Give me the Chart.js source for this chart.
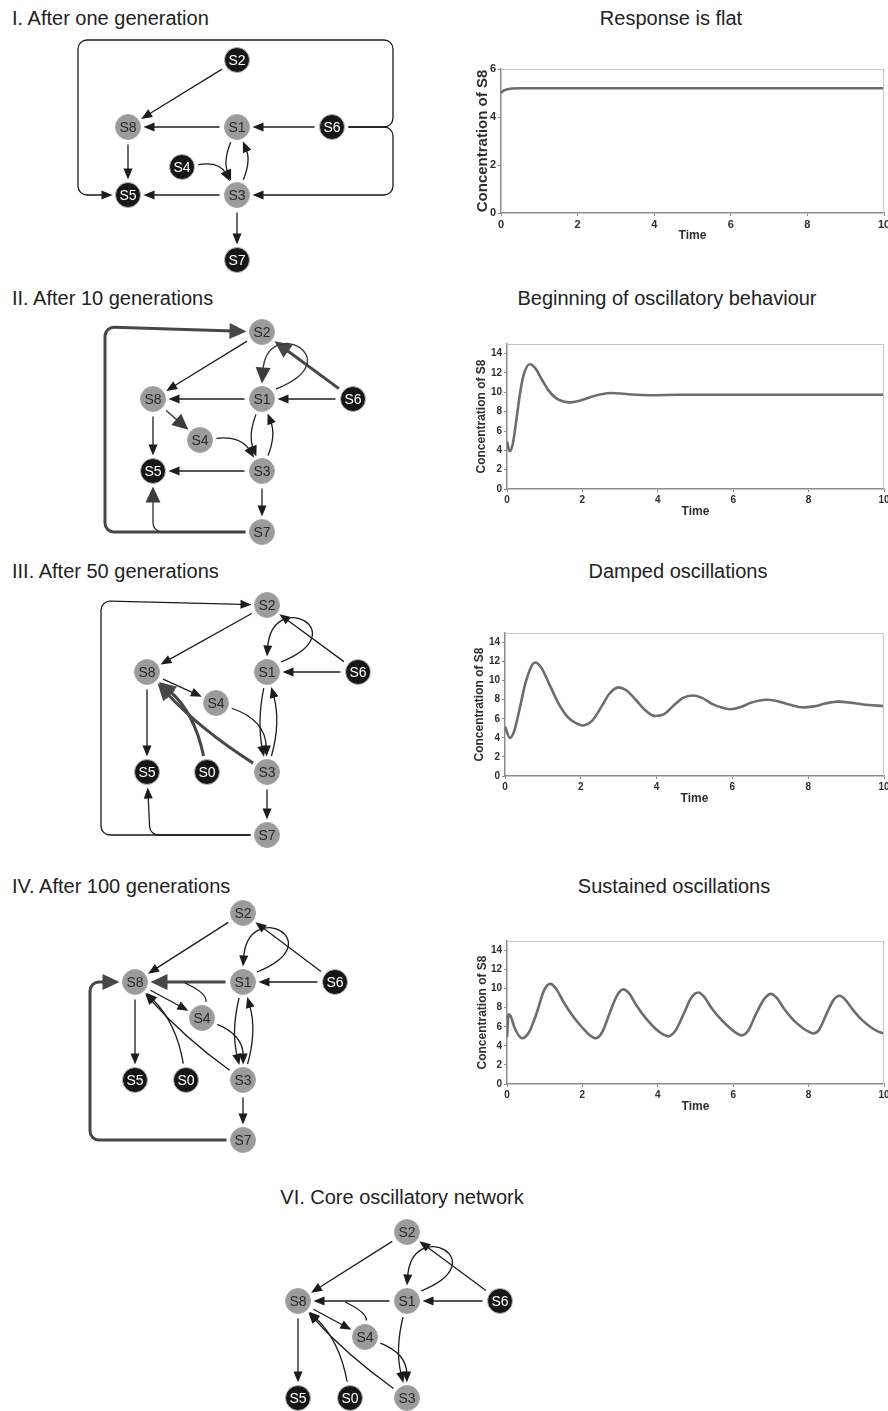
<!DOCTYPE html>
<html>
<head>
<meta charset="utf-8">
<title>Evolution of an oscillatory network</title>
<script src="https://cdn.jsdelivr.net/npm/chart.js@4.4.1/dist/chart.umd.min.js"></script>
<style>
    html, body { margin: 0; padding: 0; background: #fff; overflow: hidden; }
    body { position: relative; width: 888px; height: 1411px; font-family: "Liberation Sans", Arial, sans-serif; }
    .t { position: absolute; font-size: 20px; line-height: 20px; color: #222; white-space: nowrap; }
    .mid { transform: translateX(-50%); }
    canvas { position: absolute; }
</style>
</head>
<body>

<div class="t" style="left:12px;top:8px">I. After one generation</div>
<div class="t mid" style="left:671px;top:8px">Response is flat</div>
<div class="t" style="left:12px;top:288px">II. After 10 generations</div>
<div class="t mid" style="left:667px;top:288px">Beginning of oscillatory behaviour</div>
<div class="t" style="left:12px;top:561px">III. After 50 generations</div>
<div class="t mid" style="left:678px;top:561px">Damped oscillations</div>
<div class="t" style="left:12px;top:876px">IV. After 100 generations</div>
<div class="t mid" style="left:674px;top:876px">Sustained oscillations</div>
<div class="t mid" style="left:402px;top:1187px">VI. Core oscillatory network</div>

<canvas id="net1" width="360" height="262" style="left:55px;top:28px"></canvas>
<canvas id="net2" width="300" height="240" style="left:85px;top:310px"></canvas>
<canvas id="net3" width="300" height="270" style="left:85px;top:585px"></canvas>
<canvas id="net4" width="300" height="270" style="left:70px;top:893px"></canvas>
<canvas id="net6" width="260" height="199" style="left:270px;top:1212px"></canvas>

<canvas id="resp1" width="444" height="188" style="left:462px;top:59px"></canvas>
<canvas id="resp2" width="444" height="189" style="left:462px;top:334px"></canvas>
<canvas id="resp3" width="444" height="187" style="left:462px;top:623px"></canvas>
<canvas id="resp4" width="444" height="187" style="left:462px;top:931px"></canvas>

<script>
var FONT = '"Liberation Sans", Arial, sans-serif';

// concentration of S8 over time
var time1 = [0, 0.05, 0.1, 0.2, 0.3, 0.5, 1, 10];
var conc1 = [5.0, 5.08, 5.12, 5.17, 5.19, 5.2, 5.2, 5.2];

var time2 = [0, 0.07, 0.15, 0.25, 0.35, 0.45, 0.6, 0.75, 0.9, 1.1, 1.3, 1.5, 1.68, 1.9, 2.2, 2.5, 2.78, 3.1, 3.4, 3.8, 4.5, 10];
var conc2 = [4.9, 3.9, 4.6, 7.2, 10.0, 11.9, 12.9, 12.5, 11.5, 10.2, 9.4, 9.05, 8.96, 9.1, 9.5, 9.8, 9.93, 9.85, 9.75, 9.7, 9.75, 9.75];

var time3 = [0, 0.13, 0.25, 0.4, 0.55, 0.79, 0.95, 1.15, 1.4, 1.65, 1.85, 2.06, 2.3, 2.55, 2.75, 2.99, 3.2, 3.45, 3.7, 3.95,
             4.2, 4.45, 4.7, 4.95, 5.2, 5.45, 5.7, 5.93, 6.2, 6.5, 6.9, 7.2, 7.5, 7.86, 8.15, 8.45, 8.79, 9.1, 9.45, 10];
var conc3 = [5.2, 4.0, 4.8, 7.3, 9.9, 11.9, 11.4, 9.8, 7.7, 6.2, 5.6, 5.3, 5.8, 7.3, 8.6, 9.3, 9.0, 8.0, 6.9, 6.3,
             6.5, 7.4, 8.2, 8.45, 8.2, 7.6, 7.2, 7.0, 7.2, 7.7, 8.0, 7.85, 7.5, 7.2, 7.3, 7.6, 7.8, 7.7, 7.5, 7.33];

var time4 = [0, 0.04, 0.1, 0.2, 0.4, 0.58, 0.8, 0.98, 1.15, 1.3, 1.5, 1.75, 2.0, 2.2, 2.35,
             2.52, 2.72, 2.92, 3.09, 3.24, 3.44, 3.69, 3.94, 4.14, 4.28,
             4.46, 4.68, 4.88, 5.07, 5.22, 5.42, 5.67, 5.92, 6.1, 6.22,
             6.4, 6.6, 6.82, 7.0, 7.15, 7.35, 7.6, 7.85, 8.02, 8.12,
             8.28, 8.47, 8.66, 8.82, 8.97, 9.17, 9.42, 9.67, 9.85, 10];
var conc4 = [4.9, 7.3, 7.1, 5.9, 4.8, 5.4, 7.6, 9.8, 10.5, 10.0, 8.6, 7.1, 5.9, 5.1, 4.8,
             5.4, 7.4, 9.3, 9.93, 9.5, 8.2, 6.85, 5.8, 5.2, 5.0,
             5.55, 7.3, 9.0, 9.6, 9.2, 8.0, 6.8, 5.85, 5.3, 5.1,
             5.6, 7.3, 8.9, 9.45, 9.05, 7.9, 6.7, 5.85, 5.45, 5.3,
             5.7, 7.3, 8.8, 9.25, 8.85, 7.8, 6.7, 5.9, 5.5, 5.3];

var timeTicks = [0, 2, 4, 6, 8, 10];

// networks: species, where they sit on the page, which are held fixed (dark), and the links
var net1Names = ['S2', 'S8', 'S1', 'S6', 'S4', 'S5', 'S3', 'S7'];
var net1X = [237, 128, 237, 332, 182, 128, 237, 237];
var net1Y = [60, 127, 127, 127, 167, 195, 195, 260];
var net1Dark = ['S2', 'S6', 'S4', 'S5', 'S7'];
var net1Edges = [
    {from: 'S2', to: 'S8'}, {from: 'S1', to: 'S8'}, {from: 'S6', to: 'S1'},
    {from: 'S8', to: 'S5'}, {from: 'S3', to: 'S5'}, {from: 'S3', to: 'S7'},
    {from: 'S4', to: 'S3', bend: -22}, {from: 'S1', to: 'S3', bend: 14}, {from: 'S3', to: 'S1', bend: 14},
    {from: 'S6', to: 'S5', via: [[393, 127], [393, 40], [78, 40], [78, 195]]},
    {from: 'S6', to: 'S3', via: [[393, 127], [393, 195]]}
];

var net2Names = ['S2', 'S8', 'S1', 'S6', 'S4', 'S5', 'S3', 'S7'];
var net2X = [262, 153, 262, 353, 200, 153, 262, 262];
var net2Y = [332, 399, 399, 399, 440, 471, 471, 532];
var net2Dark = ['S6', 'S5'];
var net2Edges = [
    {from: 'S2', to: 'S8'}, {from: 'S1', to: 'S8'}, {from: 'S6', to: 'S1'},
    {from: 'S6', to: 'S2', w: 3}, {from: 'S8', to: 'S4', w: 2},
    {from: 'S8', to: 'S5'}, {from: 'S3', to: 'S5'}, {from: 'S3', to: 'S7'},
    {from: 'S4', to: 'S3', bend: -22}, {from: 'S1', to: 'S3', bend: 14}, {from: 'S3', to: 'S1', bend: 14},
    {from: 'S1', to: 'S1', loop: true, w: 2},
    {from: 'S7', to: 'S2', w: 3, via: [[105, 532], [105, 327]]},
    {from: 'S7', to: 'S5', w: 2, via: [[153, 532]]}
];

var net3Names = ['S2', 'S8', 'S1', 'S6', 'S4', 'S5', 'S0', 'S3', 'S7'];
var net3X = [267, 147, 267, 358, 216, 147, 207, 267, 267];
var net3Y = [605, 672, 672, 672, 703, 772, 772, 772, 835];
var net3Dark = ['S6', 'S5', 'S0'];
var net3Edges = [
    {from: 'S2', to: 'S8'}, {from: 'S6', to: 'S2'}, {from: 'S1', to: 'S1', loop: true},
    {from: 'S6', to: 'S1'}, {from: 'S8', to: 'S4'}, {from: 'S8', to: 'S5'},
    {from: 'S4', to: 'S3', bend: -30}, {from: 'S1', to: 'S3', bend: 10}, {from: 'S3', to: 'S1', bend: 14},
    {from: 'S3', to: 'S7'},
    {from: 'S0', to: 'S8', w: 3, bend: 20}, {from: 'S3', to: 'S8', w: 3, bend: -10},
    {from: 'S7', to: 'S2', via: [[101, 835], [101, 601]]},
    {from: 'S7', to: 'S5', via: [[150, 835]]}
];

var net4Names = ['S2', 'S8', 'S1', 'S6', 'S4', 'S5', 'S0', 'S3', 'S7'];
var net4X = [243, 135, 243, 335, 202, 135, 186, 243, 243];
var net4Y = [913, 982, 982, 982, 1018, 1080, 1080, 1080, 1140];
var net4Dark = ['S6', 'S5', 'S0'];
var net4Edges = [
    {from: 'S2', to: 'S8'}, {from: 'S6', to: 'S2'}, {from: 'S1', to: 'S1', loop: true},
    {from: 'S6', to: 'S1'}, {from: 'S1', to: 'S8', w: 3},
    {from: 'S4', at: [185, 983], bend: 16},
    {from: 'S8', to: 'S4'}, {from: 'S8', to: 'S5'},
    {from: 'S0', to: 'S8', bend: 18}, {from: 'S3', to: 'S8', bend: -8},
    {from: 'S4', to: 'S3', bend: -25}, {from: 'S1', to: 'S3', bend: 12}, {from: 'S3', to: 'S1', bend: 14},
    {from: 'S3', to: 'S7'},
    {from: 'S7', to: 'S8', w: 3, via: [[90, 1140], [90, 982]]}
];

var net6Names = ['S2', 'S8', 'S1', 'S6', 'S4', 'S5', 'S0', 'S3'];
var net6X = [407, 298, 407, 500, 365, 298, 350, 407];
var net6Y = [1232, 1301, 1301, 1301, 1337, 1398, 1398, 1398];
var net6Dark = ['S6', 'S5', 'S0'];
var net6Edges = [
    {from: 'S2', to: 'S8'}, {from: 'S6', to: 'S2'}, {from: 'S1', to: 'S1', loop: true},
    {from: 'S6', to: 'S1'}, {from: 'S1', to: 'S8'},
    {from: 'S4', at: [345, 1302], bend: 14},
    {from: 'S8', to: 'S4'}, {from: 'S8', to: 'S5'},
    {from: 'S0', to: 'S8', bend: 18}, {from: 'S3', to: 'S8', bend: -8},
    {from: 'S4', to: 'S3', bend: -25}, {from: 'S1', to: 'S3', bend: 12}
];

var R = 12.5;

function edgeStyle(w) {
    if (w === 3) return {lw: 3, col: '#474747', len: 17, half: 8};
    if (w === 2) return {lw: 1.4, col: '#3c3c3c', len: 16, half: 7.5};
    return {lw: 1.3, col: '#1c1c1c', len: 11, half: 4.5};
}

function unit(a, b) {
    var dx = b[0] - a[0], dy = b[1] - a[1];
    var l = Math.sqrt(dx * dx + dy * dy) || 1;
    return [dx / l, dy / l];
}

function arrowHead(ctx, tip, dir, st) {
    ctx.beginPath();
    ctx.moveTo(tip[0], tip[1]);
    ctx.lineTo(tip[0] - dir[0] * st.len - dir[1] * st.half, tip[1] - dir[1] * st.len + dir[0] * st.half);
    ctx.lineTo(tip[0] - dir[0] * st.len + dir[1] * st.half, tip[1] - dir[1] * st.len - dir[0] * st.half);
    ctx.closePath();
    ctx.fillStyle = st.col;
    ctx.fill();
}

function drawEdge(ctx, e, pos, P) {
    var st = edgeStyle(e.w || 1);
    var a = pos[e.from];
    var b = e.to ? pos[e.to] : P(e.at[0], e.at[1]);
    var gap = e.to ? R + 3 : 0;
    var back = e.to ? st.len * 0.8 : 0;
    var start, tip, dir, base;

    ctx.save();
    ctx.strokeStyle = st.col;
    ctx.lineWidth = st.lw;
    ctx.lineJoin = 'round';
    ctx.beginPath();

    if (e.loop) {
        var p0 = [a[0] + 14, a[1] - 10], p1 = [a[0] + 90, a[1] - 40], p2 = [a[0] + 5, a[1] - 85];
        tip = [a[0], a[1] - gap];
        dir = unit(p2, tip);
        base = [tip[0] - dir[0] * back, tip[1] - dir[1] * back];
        ctx.moveTo(p0[0], p0[1]);
        ctx.bezierCurveTo(p1[0], p1[1], p2[0], p2[1], base[0], base[1]);
    } else if (e.via) {
        var pts = e.via.map(function (v) { return P(v[0], v[1]); });
        var u0 = unit(a, pts[0]);
        start = [a[0] + u0[0] * (R + 4), a[1] + u0[1] * (R + 4)];
        var un = unit(b, pts[pts.length - 1]);
        tip = [b[0] + un[0] * gap, b[1] + un[1] * gap];
        dir = [-un[0], -un[1]];
        base = [tip[0] - dir[0] * back, tip[1] - dir[1] * back];
        ctx.moveTo(start[0], start[1]);
        for (var i = 0; i < pts.length; i++) {
            var next = i < pts.length - 1 ? pts[i + 1] : base;
            ctx.arcTo(pts[i][0], pts[i][1], next[0], next[1], 9);
        }
        ctx.lineTo(base[0], base[1]);
    } else if (e.bend) {
        var u = unit(a, b);
        var c = [(a[0] + b[0]) / 2 - u[1] * e.bend, (a[1] + b[1]) / 2 + u[0] * e.bend];
        var us = unit(a, c);
        start = [a[0] + us[0] * (R + 4), a[1] + us[1] * (R + 4)];
        var ue = unit(b, c);
        tip = [b[0] + ue[0] * gap, b[1] + ue[1] * gap];
        dir = [-ue[0], -ue[1]];
        base = [tip[0] - dir[0] * back, tip[1] - dir[1] * back];
        ctx.moveTo(start[0], start[1]);
        ctx.quadraticCurveTo(c[0], c[1], base[0], base[1]);
    } else {
        dir = unit(a, b);
        start = [a[0] + dir[0] * (R + 5), a[1] + dir[1] * (R + 5)];
        tip = [b[0] - dir[0] * gap, b[1] - dir[1] * gap];
        base = [tip[0] - dir[0] * back, tip[1] - dir[1] * back];
        ctx.moveTo(start[0], start[1]);
        ctx.lineTo(base[0], base[1]);
    }
    ctx.stroke();
    if (e.to) arrowHead(ctx, tip, dir, st);
    ctx.restore();
}

function makeNetwork(id, names, xs, ys, dark, edges) {
    var canvas = document.getElementById(id);
    var L = canvas.offsetLeft, T = canvas.offsetTop;

    var points = names.map(function (n, i) { return {x: xs[i], y: ys[i]}; });
    var fills = names.map(function (n) { return dark.indexOf(n) >= 0 ? '#161616' : '#9b9b9b'; });
    var rims = names.map(function (n) { return dark.indexOf(n) >= 0 ? '#b5b5b5' : '#a4a4a4'; });

    var links = {
        id: 'links',
        beforeDatasetsDraw: function (chart) {
            var sx = chart.scales.x, sy = chart.scales.y;
            var P = function (x, y) { return [sx.getPixelForValue(x), sy.getPixelForValue(y)]; };
            var pos = {};
            names.forEach(function (n, i) { pos[n] = P(xs[i], ys[i]); });
            edges.forEach(function (e) { drawEdge(chart.ctx, e, pos, P); });
        },
        afterDatasetsDraw: function (chart) {
            var ctx = chart.ctx, meta = chart.getDatasetMeta(0);
            ctx.save();
            ctx.font = '14px ' + FONT;
            ctx.textAlign = 'center';
            ctx.textBaseline = 'middle';
            meta.data.forEach(function (el, i) {
                ctx.fillStyle = dark.indexOf(names[i]) >= 0 ? '#ffffff' : '#2a2a2a';
                ctx.fillText(names[i], el.x, el.y + 1);
            });
            ctx.restore();
        }
    };

    return new Chart(canvas, {
        type: 'scatter',
        data: {
            datasets: [{
                data: points,
                pointRadius: R,
                pointHoverRadius: R,
                pointBackgroundColor: fills,
                pointBorderColor: rims,
                pointBorderWidth: 1,
                clip: false
            }]
        },
        options: {
            responsive: false,
            animation: false,
            devicePixelRatio: 1,
            events: [],
            layout: {padding: 0, autoPadding: false},
            plugins: {legend: {display: false}, tooltip: {enabled: false}},
            scales: {
                x: {type: 'linear', min: L, max: L + canvas.width, display: false},
                y: {type: 'linear', min: T, max: T + canvas.height, reverse: true, display: false}
            }
        },
        plugins: [links]
    });
}

var frame = {
    id: 'frame',
    afterDraw: function (chart) {
        var a = chart.chartArea, ctx = chart.ctx;
        ctx.save();
        ctx.strokeStyle = '#c6c6c6';
        ctx.lineWidth = 1;
        ctx.beginPath();
        ctx.moveTo(a.left, a.top + 0.5);
        ctx.lineTo(a.right - 0.5, a.top + 0.5);
        ctx.lineTo(a.right - 0.5, a.bottom);
        ctx.stroke();
        ctx.restore();
    }
};

function makeResponse(id, times, conc, yMax, yWidth, tickSize, titleSize, titlePad) {
    var points = times.map(function (t, i) { return {x: t, y: conc[i]}; });
    var tickFont = {family: FONT, size: tickSize, weight: 'bold'};

    return new Chart(document.getElementById(id), {
        type: 'line',
        data: {
            datasets: [{
                data: points,
                borderColor: '#6d6d6d',
                borderWidth: 2.6,
                pointRadius: 0,
                fill: false,
                cubicInterpolationMode: 'monotone'
            }]
        },
        options: {
            responsive: false,
            animation: false,
            devicePixelRatio: 1,
            events: [],
            layout: {padding: {top: 10, right: 22, left: 0, bottom: 0}, autoPadding: false},
            plugins: {legend: {display: false}, tooltip: {enabled: false}},
            scales: {
                x: {
                    type: 'linear', min: timeTicks[0], max: timeTicks[timeTicks.length - 1],
                    afterBuildTicks: function (s) { s.ticks = timeTicks.map(function (v) { return {value: v}; }); },
                    ticks: {font: tickFont, color: '#2e2e2e', padding: 2, maxRotation: 0, autoSkip: false},
                    grid: {drawOnChartArea: false, tickLength: 3, color: '#8c8c8c'},
                    border: {color: '#8c8c8c', width: 1.5},
                    title: {display: true, text: 'Time', color: '#2e2e2e', font: {family: FONT, size: 12, weight: 'bold'}, padding: {top: 0, bottom: 4}},
                    afterFit: function (s) { s.height = 34; }
                },
                y: {
                    min: 0, max: yMax,
                    ticks: {stepSize: 2, includeBounds: false, font: tickFont, color: '#2e2e2e', padding: 2},
                    grid: {drawOnChartArea: false, tickLength: 3, color: '#8c8c8c'},
                    border: {color: '#8c8c8c', width: 1.5},
                    title: {display: true, text: 'Concentration of S8', color: '#2e2e2e', font: {family: FONT, size: titleSize, weight: 'bold'}, padding: {top: titlePad, bottom: 0}},
                    afterFit: function (s) { s.width = yWidth; }
                }
            }
        },
        plugins: [frame]
    });
}

makeNetwork('net1', net1Names, net1X, net1Y, net1Dark, net1Edges);
makeNetwork('net2', net2Names, net2X, net2Y, net2Dark, net2Edges);
makeNetwork('net3', net3Names, net3X, net3Y, net3Dark, net3Edges);
makeNetwork('net4', net4Names, net4X, net4Y, net4Dark, net4Edges);
makeNetwork('net6', net6Names, net6X, net6Y, net6Dark, net6Edges);

makeResponse('resp1', time1, conc1, 6, 39, 11, 15, 12);
makeResponse('resp2', time2, conc2, 15, 45, 10, 12, 12.8);
makeResponse('resp3', time3, conc3, 15, 43, 10, 12, 10);
makeResponse('resp4', time4, conc4, 15, 45, 10, 12, 13.8);
</script>
</body>
</html>
